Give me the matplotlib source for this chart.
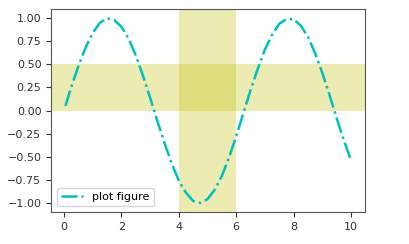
import matplotlib
matplotlib.use("Agg")
import matplotlib.pyplot as plt

# curve
xs = [0.05, 0.25, 0.5, 0.75, 1.0, 1.25, 1.5, 1.75, 2.0, 2.25, 2.5, 2.75, 3.0,
      3.25, 3.5, 3.75, 4.0, 4.25, 4.5, 4.75, 5.0, 5.25, 5.5, 5.75, 6.0, 6.25,
      6.5, 6.75, 7.0, 7.25, 7.5, 7.75, 8.0, 8.25, 8.5, 8.75, 9.0, 9.25, 9.5,
      9.75, 10.0]
ys = [0.05, 0.25, 0.48, 0.68, 0.84, 0.95, 1.00, 0.98, 0.91, 0.78, 0.60, 0.38,
      0.14, -0.11, -0.35, -0.57, -0.76, -0.89, -0.98, -1.00, -0.96, -0.86,
      -0.71, -0.51, -0.28, -0.03, 0.22, 0.45, 0.66, 0.82, 0.94, 0.99, 0.99,
      0.92, 0.80, 0.62, 0.41, 0.17, -0.08, -0.32, -0.54]
hspan = (0.0, 0.5)
vspan = (4.0, 6.0)
label = "plot figure"

plt.rcParams['font.size'] = 8
fig, ax = plt.subplots(figsize=(4.09, 2.44), dpi=100)
fig.subplots_adjust(left=0.125, right=0.893, top=0.963, bottom=0.131)

ax.plot(xs, ys, linestyle='-.', color='c', linewidth=1.8, label=label)
ax.axhspan(hspan[0], hspan[1], color='y', alpha=0.3, lw=0)
ax.axvspan(vspan[0], vspan[1], color='y', alpha=0.3, lw=0)
ax.set_xticks([0, 2, 4, 6, 8, 10])
for s in ax.spines.values():
    s.set_color('#555555')
ax.tick_params(colors='#333333')
ax.legend(loc='lower left')

plt.savefig("out.png")
